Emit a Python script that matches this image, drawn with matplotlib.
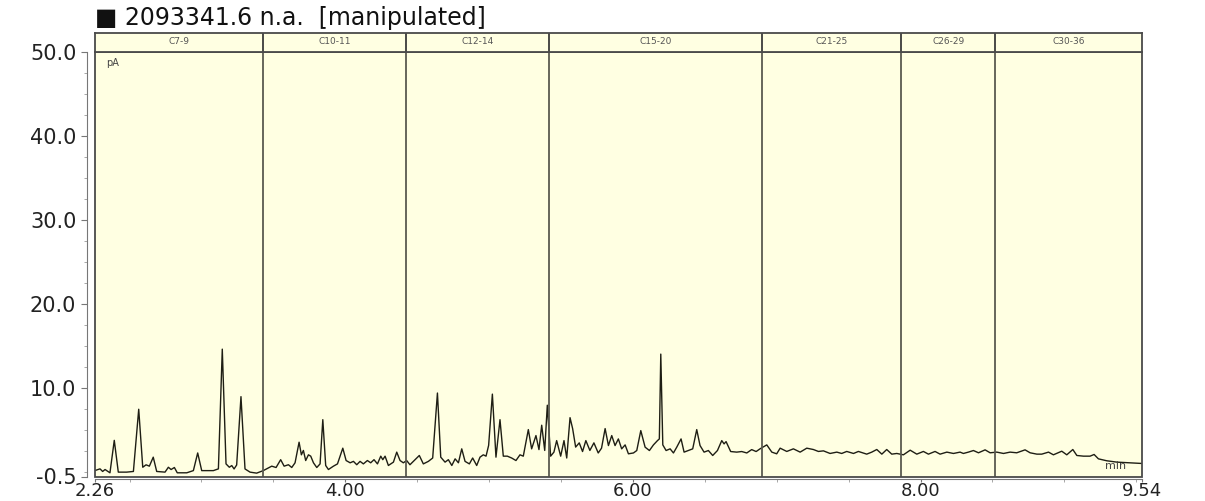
import numpy as np
import matplotlib.pyplot as plt
from matplotlib.patches import Rectangle
from matplotlib.ticker import MultipleLocator

# chromatogram trace (minutes, pA)
time_min = [
    2.26, 2.295, 2.313, 2.33, 2.364, 2.394, 2.422, 2.48, 2.527, 2.564,
    2.592, 2.615, 2.638, 2.665, 2.689, 2.747, 2.77, 2.789, 2.812, 2.832,
    2.898, 2.944, 2.974, 3.002, 3.083, 3.118, 3.145, 3.171, 3.194, 3.211,
    3.227, 3.245, 3.275, 3.303, 3.338, 3.384, 3.43,
    3.454, 3.489, 3.519, 3.551, 3.575, 3.605, 3.628, 3.651, 3.679, 3.695,
    3.709, 3.725, 3.744, 3.76, 3.779, 3.802, 3.825, 3.844, 3.864, 3.883,
    3.918, 3.946, 3.983, 4.006, 4.034, 4.057, 4.08, 4.103, 4.126, 4.154,
    4.177, 4.2, 4.224, 4.247, 4.261, 4.277, 4.3, 4.335, 4.358, 4.381,
    4.404, 4.427, 4.45, 4.485, 4.515, 4.543, 4.578, 4.608,
    4.641, 4.664, 4.694, 4.717, 4.741, 4.764, 4.787, 4.81, 4.833, 4.863,
    4.886, 4.914, 4.937, 4.96, 4.979, 4.997, 5.023, 5.048, 5.076, 5.099,
    5.127, 5.157, 5.187, 5.215, 5.238, 5.273, 5.296, 5.326, 5.347, 5.366,
    5.387, 5.405, 5.428, 5.451, 5.47, 5.498, 5.521, 5.54, 5.563, 5.581,
    5.602, 5.627, 5.65, 5.673, 5.701, 5.729, 5.759, 5.782, 5.807,
    5.830, 5.853, 5.876, 5.899, 5.922, 5.946, 5.969, 6.004, 6.027, 6.055,
    6.085, 6.115, 6.143, 6.171, 6.184, 6.194, 6.208, 6.231, 6.259, 6.282,
    6.305, 6.335, 6.356, 6.386, 6.416, 6.444, 6.467, 6.495, 6.525, 6.555,
    6.588, 6.618, 6.634, 6.648, 6.680, 6.722, 6.757, 6.792, 6.826, 6.857,
    6.884, 6.931, 6.966, 7.000,
    7.024, 7.070, 7.116, 7.163, 7.209, 7.255, 7.290, 7.325, 7.371, 7.418,
    7.452, 7.487, 7.534, 7.568, 7.626, 7.661, 7.696, 7.731, 7.765, 7.800,
    7.835, 7.881, 7.928, 7.974, 8.020, 8.055, 8.101, 8.136, 8.183, 8.229,
    8.275,
    8.298, 8.333, 8.368, 8.403, 8.449, 8.484, 8.530, 8.577, 8.623, 8.669,
    8.727, 8.762, 8.809, 8.843, 8.890, 8.924, 8.982, 9.017, 9.059, 9.087,
    9.133, 9.179, 9.207, 9.237, 9.295, 9.365, 9.457, 9.527, 9.54,
]
signal_pa = [
    0.21, 0.41, 0.1, 0.33, -0.06, 3.8, 0.02, 0.02, 0.1, 7.5,
    0.6, 0.89, 0.73, 1.8, 0.1, 0.02, 0.6, 0.33, 0.57, -0.06,
    -0.06, 0.2, 2.3, 0.2, 0.2, 0.41, 14.65, 1.0, 0.6, 0.8,
    0.4, 0.87, 9.0, 0.4, 0.02, -0.1, 0.2,
    0.41, 0.73, 0.57, 1.5, 0.73, 0.9, 0.57, 1.13, 3.58, 2.08,
    2.6, 1.4, 2.08, 1.92, 1.13, 0.57, 1.0, 6.26, 0.81, 0.33,
    0.73, 1.0, 2.87, 1.4, 1.13, 1.3, 0.9, 1.3, 1.0, 1.4,
    1.13, 1.5, 1.0, 1.92, 1.5, 1.92, 0.81, 1.21, 2.4, 1.4,
    1.13, 1.4, 0.9, 1.5, 2.0, 1.0, 1.3, 1.7,
    9.43, 1.8, 1.21, 1.5, 0.81, 1.6, 1.13, 2.79, 1.3, 1.0,
    1.7, 0.81, 1.8, 2.08, 1.92, 3.2, 9.3, 1.8, 6.26, 1.92,
    1.92, 1.7, 1.4, 2.08, 1.92, 5.08, 2.79, 4.37, 2.7, 5.6,
    2.6, 7.98, 1.92, 2.4, 3.77, 1.92, 3.77, 1.7, 6.5, 5.2,
    3.0, 3.5, 2.47, 3.77, 2.6, 3.5, 2.3, 2.87, 5.2,
    3.18, 4.37, 3.18, 3.97, 2.79, 3.26, 2.2, 2.3, 2.59, 4.96,
    2.99, 2.59, 3.26, 3.77, 3.97, 14.06, 3.26, 2.59, 2.79, 2.3,
    2.99, 3.97, 2.4, 2.59, 2.79, 5.08, 3.18, 2.4, 2.59, 2.0,
    2.59, 3.77, 3.38, 3.65, 2.47, 2.4, 2.47, 2.3, 2.7, 2.47,
    2.79, 3.26, 2.4, 2.2,
    2.87, 2.48, 2.79, 2.40, 2.87, 2.71, 2.48, 2.55, 2.24, 2.40,
    2.24, 2.48, 2.24, 2.48, 2.16, 2.40, 2.71, 2.16, 2.71, 2.16,
    2.24, 2.08, 2.63, 2.16, 2.48, 2.16, 2.48, 2.16, 2.40, 2.24,
    2.40,
    2.24, 2.40, 2.59, 2.32, 2.67, 2.32, 2.40, 2.24, 2.40, 2.32,
    2.67, 2.32, 2.16, 2.16, 2.40, 2.08, 2.51, 2.08, 2.71, 2.0,
    1.92, 1.92, 2.12, 1.60, 1.37, 1.21, 1.13, 1.06, 1.05,
]

# carbon number windows
window_edges = [2.26, 3.428, 4.423, 5.417, 6.898, 7.865, 8.519, 9.54]
window_labels = ['C7-9', 'C10-11', 'C12-14', 'C15-20', 'C21-25', 'C26-29', 'C30-36']

x_ticks = [2.26, 4.00, 6.00, 8.00, 9.54]
x_ticklabels = ['2.26', '4.00', '6.00', '8.00', '9.54']
y_ticks = [-0.5, 10.0, 20.0, 30.0, 40.0, 50.0]
y_ticklabels = ['-0.5', '10.0', '20.0', '30.0', '40.0', '50.0']

W, H = 1205, 501
bg = '#ffffe2'
edge = '#4a4a4a'

fig = plt.figure(figsize=(W / 100, H / 100), dpi=100)
plt.rcParams['font.family'] = ['DejaVu Sans']

left, right = 95 / W, 1142 / W
bottom_px = 476.5
ax = fig.add_axes([left, (H - bottom_px) / H, right - left, (bottom_px - 52) / H])
band = fig.add_axes([left, (H - 52) / H, right - left, (52 - 33) / H])

ax.set_facecolor(bg)
band.set_facecolor(bg)

ax.plot(time_min, signal_pa, color='#1e1e14', lw=1.0)
ax.set_xlim(window_edges[0], window_edges[-1])
ax.set_ylim(-0.5, 50)

for e in window_edges[1:-1]:
    ax.axvline(e, color='#5a5a50', lw=1.3)
    band.axvline(e, color='#3a3a3a', lw=1.3)

band.set_xlim(window_edges[0], window_edges[-1])
band.set_ylim(0, 1)
for i, lab in enumerate(window_labels):
    mid = (window_edges[i] + window_edges[i + 1]) / 2
    band.text(mid, 0.55, lab, ha='center', va='center', fontsize=6.5, color='#555555')
band.set_xticks([])
band.set_yticks([])
for s in band.spines.values():
    s.set_color(edge)
    s.set_linewidth(1.3)

# box round the plot, ticks sit on offset spines
ax.add_patch(Rectangle((0, 0), 1, 1, transform=ax.transAxes, fill=False,
                       ec=edge, lw=1.3, clip_on=False, zorder=5))
ax.spines['top'].set_visible(False)
ax.spines['right'].set_visible(False)
ax.spines['left'].set_position(('outward', 6))
ax.spines['bottom'].set_position(('outward', 1.5))
ax.spines['left'].set_color('#777777')
ax.spines['bottom'].set_color('#777777')

ax.set_xticks(x_ticks)
ax.set_xticklabels(x_ticklabels)
ax.set_yticks(y_ticks)
ax.set_yticklabels(y_ticklabels)
ax.xaxis.set_minor_locator(MultipleLocator(0.5))
ax.yaxis.set_minor_locator(MultipleLocator(2.5))
ax.tick_params(axis='y', which='major', labelsize=15, color='#777777',
               length=4, labelcolor='#222222')
ax.tick_params(axis='x', which='major', labelsize=13, color='#777777',
               length=2.5, labelcolor='#222222', pad=0)
ax.tick_params(axis='both', which='minor', color='#999999', length=2.5)

ax.text(0.011, 0.985, 'pA', transform=ax.transAxes, fontsize=7,
        color='#444444', va='top', ha='left')
ax.text(0.985, 0.012, 'min', transform=ax.transAxes, fontsize=8,
        color='#444444', va='bottom', ha='right')

fig.text(95 / W, 1 - 18 / H, '\u25a0 2093341.6 n.a.  [manipulated]',
         fontsize=17, va='center', ha='left', color='#111111')

fig.savefig('out.png', dpi=100)
